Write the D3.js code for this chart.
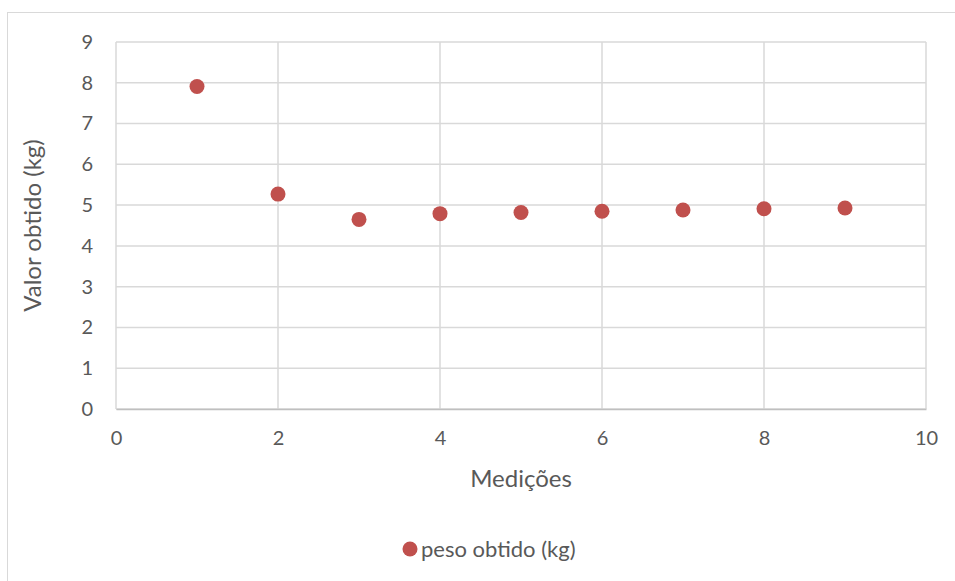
<!DOCTYPE html>
<html><head><meta charset="utf-8">
<script src="https://cdn.jsdelivr.net/npm/d3@7"></script>
<style>body{margin:0;background:#fff;} svg{display:block;}</style>
</head><body><svg id="c" width="955" height="581"></svg>
<script>
const xValues = [1, 2, 3, 4, 5, 6, 7, 8, 9];
const yValues = [7.91, 5.27, 4.65, 4.79, 4.82, 4.85, 4.88, 4.91, 4.93];
const xTicks = [0, 2, 4, 6, 8, 10];
const yTicks = [0, 1, 2, 3, 4, 5, 6, 7, 8, 9];
const seriesName = "peso obtido (kg)";
const xTitle = "Medições";
const yTitle = "Valor obtido (kg)";

const svg = d3.select("#c");
const font = "Lato, 'Open Sans', sans-serif";
const textColor = "#595959";
const gridColor = "#d9d9d9";
const markColor = "#C0504D";

svg.append("rect").attr("x", 7.5).attr("y", 12.5).attr("width", 960).attr("height", 600)
  .attr("fill", "#fff").attr("stroke", "#d9d9d9").attr("stroke-width", 1);

const L = 116, R = 926, T = 42, B = 409;
const x = d3.scaleLinear().domain([0, 10]).range([L, R]);
const y = d3.scaleLinear().domain([0, 9]).range([B, T]);

// gridlines
svg.append("g").selectAll("line").data(yTicks).join("line")
  .attr("x1", L).attr("x2", R).attr("y1", d => y(d)).attr("y2", d => y(d))
  .attr("stroke", gridColor).attr("stroke-width", 1.5);
svg.append("g").selectAll("line").data(xTicks).join("line")
  .attr("y1", T).attr("y2", B).attr("x1", d => x(d)).attr("x2", d => x(d))
  .attr("stroke", gridColor).attr("stroke-width", 1.5);

// axes
const xAxis = svg.append("g").attr("transform", `translate(0,${B})`)
  .call(d3.axisBottom(x).tickValues(xTicks).tickSize(0).tickPadding(22));
const yAxis = svg.append("g").attr("transform", `translate(${L},0)`)
  .call(d3.axisLeft(y).tickValues(yTicks).tickSize(0).tickPadding(23));
[xAxis, yAxis].forEach(a => {
  a.select(".domain").attr("stroke", "#bfbfbf").attr("stroke-width", 1.5);
  a.selectAll("text").attr("fill", textColor).style("font-family", font).style("font-size", "20px");
});
yAxis.select(".domain").remove();

// titles
svg.append("text").attr("x", (L + R) / 2 + 0).attr("y", 487).attr("text-anchor", "middle")
  .attr("fill", textColor).style("font-family", font).style("font-size", "24px").text(xTitle);
svg.append("text").attr("transform", `translate(41,${(T + B) / 2}) rotate(-90)`).attr("text-anchor", "middle")
  .attr("fill", textColor).style("font-family", font).style("font-size", "24px").text(yTitle);

// points
svg.append("g").selectAll("circle").data(xValues).join("circle")
  .attr("cx", (d) => x(d)).attr("cy", (d, i) => y(yValues[i])).attr("r", 7.5)
  .attr("fill", markColor);

// legend
const lg = svg.append("g").attr("transform", "translate(410,549)");
lg.append("circle").attr("r", 7.5).attr("fill", markColor);
lg.append("text").attr("x", 11).attr("y", 7.5).attr("fill", textColor)
  .style("font-family", font).style("font-size", "22px").text(seriesName);
</script></body></html>
